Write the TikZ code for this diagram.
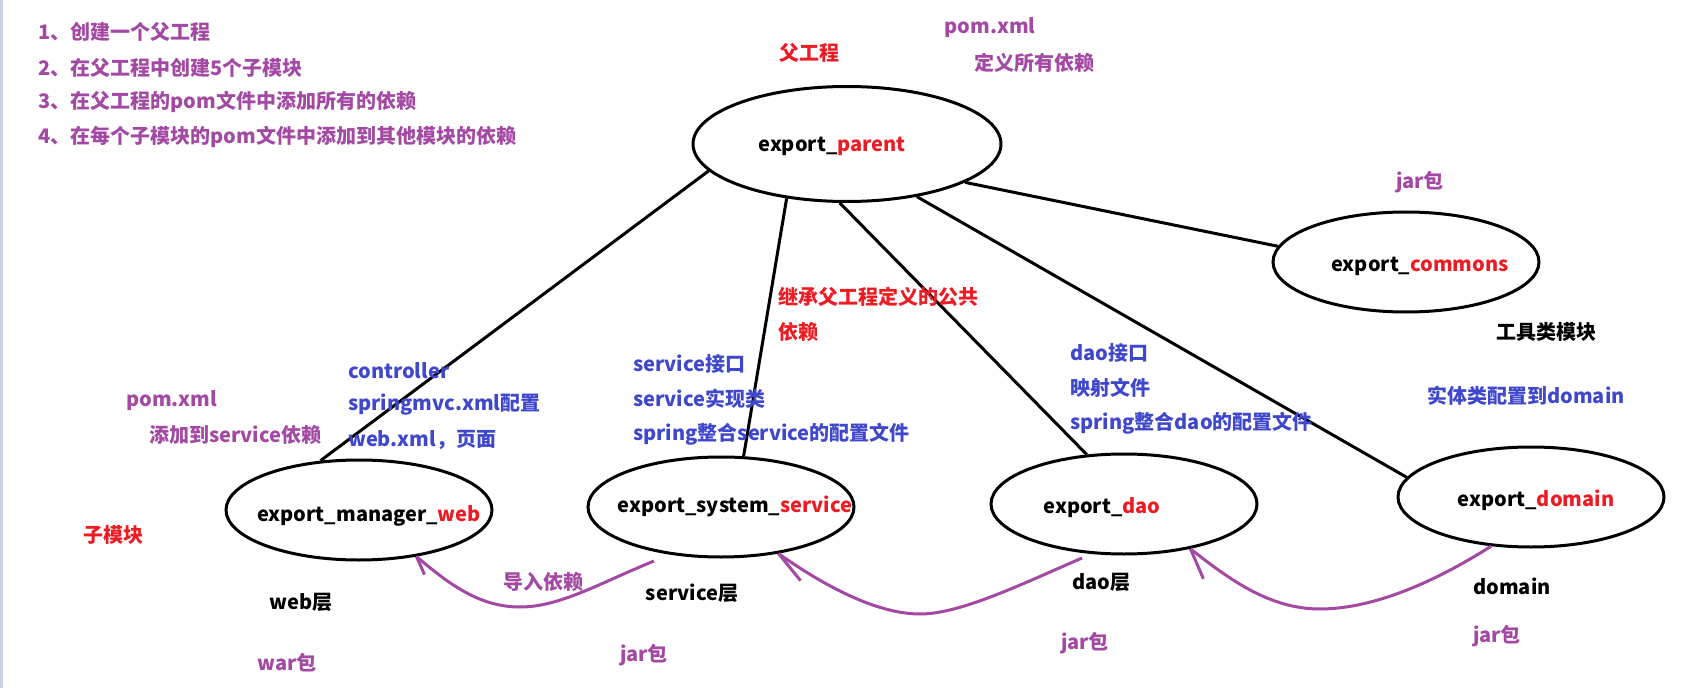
\documentclass[tikz,border=0pt]{standalone}
\usepackage{fontspec}
\setmainfont{Noto Sans CJK SC}
\usetikzlibrary{shapes.geometric}
\definecolor{ppurple}{HTML}{A349A4}
\definecolor{pblue}{HTML}{3F48CC}
\definecolor{pred}{HTML}{ED1C24}
\definecolor{stripc}{HTML}{CBD3E3}
\begin{document}
\begin{tikzpicture}[x=0.75pt,y=-0.75pt,
  font=\fontsize{15}{18}\selectfont\bfseries,
  mod/.style={draw, ellipse, line width=2.25pt, inner sep=0pt, minimum width=199.5pt, minimum height=75pt},
  lbl/.style={inner sep=0pt, anchor=center},
  lft/.style={inner sep=0pt, anchor=west},
  link/.style={line width=2.25pt},
  dep/.style={draw=ppurple, line width=2.25pt}]
\useasboundingbox (0,0) rectangle (1707,688);
\fill[white] (0,0) rectangle (1707,688);
\fill[stripc] (0,0) rectangle (3,688);

% steps
\node[lft, text=ppurple] (s1) at (38,32) {1、创建一个父工程};
\node[lft, text=ppurple] (s2) at (38,68) {2、在父工程中创建5个子模块};
\node[lft, text=ppurple] (s3) at (38,102) {3、在父工程的pom文件中添加所有的依赖};
\node[lft, text=ppurple] (s4) at (38,137) {4、在每个子模块的pom文件中添加到其他模块的依赖};

% modules
\node[mod, minimum width=231pt, minimum height=86.25pt] (parent) at (847,144) {};
\node[mod] (com) at (1406,262) {};
\node[mod] (web) at (359,510) {};
\node[mod] (svc) at (721,507) {};
\node[mod] (dao) at (1124,504) {};
\node[mod] (dom) at (1531,497) {};

\node[lbl] (parentT) at (832,146) {export\_\textcolor{pred}{parent}};
\node[lbl] (comT) at (1420,266) {export\_\textcolor{pred}{commons}};
\node[lbl] (webT) at (369,516) {export\_manager\_\textcolor{pred}{web}};
\node[lbl] (svcT) at (735,506) {export\_system\_\textcolor{pred}{service}};
\node[lbl] (daoT) at (1102,508) {export\_\textcolor{pred}{dao}};
\node[lbl] (domT) at (1536,500) {export\_\textcolor{pred}{domain}};

% parent links
\draw[link] (parent.191) -- (web.128);
\draw[link] (parent.222) -- (svc.66);
\draw[link] (parent.263) -- (dao.127);
\draw[link] (parent.323) -- (dom.171);
\draw[link] (parent.342) -- (com.173);

% dependency arrows
\coordinate (svcS) at (654,561);
\coordinate (daoS) at (1082,558);
\draw[dep] (svcS) .. controls (600,583) and (560,607) .. (520,607)
  .. controls (480,607) and (450,585) .. (web.-39);
\draw[dep] (web.-39) -- ++(8,18);
\draw[dep] (daoS) .. controls (1020,585) and (960,614) .. (920,614)
  .. controls (880,614) and (830,590) .. (svc.-39);
\draw[dep] (svc.-39) -- ++(22,27);
\draw[dep] (dom.231) .. controls (1430,585) and (1370,609) .. (1320,609)
  .. controls (1270,609) and (1230,580) .. (dao.-34);
\draw[dep] (dao.-34) -- ++(13,30);

% annotations
\node[lbl, text=pred] (fgc) at (809,53) {父工程};
\node[lbl, text=ppurple] (pom1) at (990,28) {pom.xml};
\node[lbl, text=ppurple] (dyyl) at (1034,63) {定义所有依赖};
\node[lbl, text=ppurple] (jar1) at (1420,182) {jar包};
\node[lbl, text=black] (gjl) at (1546,332) {工具类模块};
\node[lbl, text=pblue] (stl) at (1526,396) {实体类配置到domain};
\node[lft, text=pred] (jc1) at (778,297) {继承父工程定义的公共};
\node[lft, text=pred] (jc2) at (778,332) {依赖};
\node[lft, text=pblue] (w1) at (348,371) {controller};
\node[lft, text=pblue] (w2) at (348,405) {springmvc.xml配置};
\node[lft, text=pblue] (w3) at (348,440) {web.xml，页面};
\node[lft, text=pblue] (v1) at (633,364) {service接口};
\node[lft, text=pblue] (v2) at (633,399) {service实现类};
\node[lft, text=pblue] (v3) at (633,434) {spring整合service的配置文件};
\node[lft, text=pblue] (d1) at (1070,353) {dao接口};
\node[lft, text=pblue] (d2) at (1070,388) {映射文件};
\node[lft, text=pblue] (d3) at (1070,423) {spring整合dao的配置文件};
\node[lft, text=ppurple] (pom2) at (126,401) {pom.xml};
\node[lft, text=ppurple] (tjd) at (149,435) {添加到service依赖};
\node[lbl, text=pred] (zmk) at (113,535) {子模块};
\node[lbl, text=ppurple] (drd) at (543,582) {导入依赖};
\node[lbl, text=black] (webc) at (301,602) {web层};
\node[lbl, text=ppurple] (war) at (287,663) {war包};
\node[lbl, text=black] (svcc) at (692,593) {service层};
\node[lbl, text=ppurple] (jar2) at (644,655) {jar包};
\node[lbl, text=black] (daoc) at (1101,582) {dao层};
\node[lbl, text=ppurple] (jar3) at (1085,643) {jar包};
\node[lbl, text=black] (domc) at (1512,586) {domain};
\node[lbl, text=ppurple] (jar4) at (1497,636) {jar包};
\end{tikzpicture}
\end{document}
